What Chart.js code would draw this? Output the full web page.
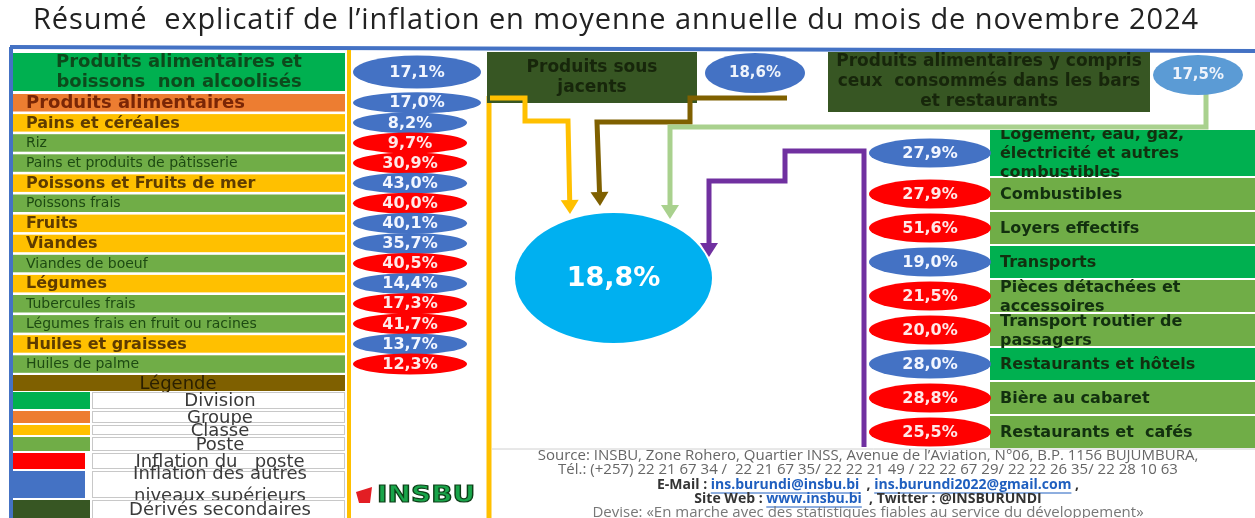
<!DOCTYPE html>
<html lang="fr">
<head>
<meta charset="utf-8">
<title>Inflation en moyenne annuelle – novembre 2024</title>
<script src="https://cdn.jsdelivr.net/npm/chart.js@4.4.1/dist/chart.umd.min.js"></script>
<style>
  html, body { margin: 0; padding: 0; background: #fff; }
  #wrap { width: 1255px; height: 518px; }
  canvas { display: block; }
</style>
</head>
<body>
<div id="wrap"><canvas id="infl" width="1255" height="518"></canvas></div>
<script>
/* ============================================================
   Résumé explicatif de l'inflation — novembre 2024
   ============================================================ */

// ── Data ──────────────────────────────────────────────────────
const TITLE = 'Résumé  explicatif de l’inflation en moyenne annuelle du mois de novembre 2024';
const headlineValue = 18.8;

const topLabels = [
  ['Produits sous', 'jacents'],
  ['Produits alimentaires y compris', 'ceux  consommés dans les bars', 'et restaurants']
];
const topValues = [18.6, 17.5];

const foodLabels = [
  ['Produits alimentaires et', 'boissons  non alcoolisés'],
  'Produits alimentaires',
  'Pains et céréales',
  'Riz',
  'Pains et produits de pâtisserie',
  'Poissons et Fruits de mer',
  'Poissons frais',
  'Fruits',
  'Viandes',
  'Viandes de boeuf',
  'Légumes',
  'Tubercules frais',
  'Légumes frais en fruit ou racines',
  'Huiles et graisses',
  'Huiles de palme'
];
const foodLevels = ['division', 'groupe', 'classe', 'poste', 'poste', 'classe', 'poste',
                    'classe', 'classe', 'poste', 'classe', 'poste', 'poste', 'classe', 'poste'];
const foodValues = [17.1, 17.0, 8.2, 9.7, 30.9, 43.0, 40.0, 40.1, 35.7, 40.5, 14.4, 17.3, 41.7, 13.7, 12.3];

const otherLabels = [
  ['Logement, eau, gaz,', 'électricité et autres', 'combustibles'],
  'Combustibles',
  'Loyers effectifs',
  'Transports',
  ['Pièces détachées et', 'accessoires'],
  ['Transport routier de', 'passagers'],
  'Restaurants et hôtels',
  'Bière au cabaret',
  'Restaurants et  cafés'
];
const otherLevels = ['division', 'poste', 'poste', 'division', 'poste', 'poste', 'division', 'poste', 'poste'];
const otherValues = [27.9, 27.9, 51.6, 19.0, 21.5, 20.0, 28.0, 28.8, 25.5];

const legendTitle = 'Légende';
const legendLabels = ['Division', 'Groupe', 'Classe', 'Poste', 'Inflation du   poste',
                      ['Inflation des autres', 'niveaux supérieurs'], 'Dérivés secondaires'];
const legendKeys = ['division', 'groupe', 'classe', 'poste', 'red', 'blue', 'derive'];

const sourceLines = [
  'Source: INSBU, Zone Rohero, Quartier INSS, Avenue de l’Aviation, N°06, B.P. 1156 BUJUMBURA,',
  'Tél.: (+257) 22 21 67 34 /  22 21 67 35/ 22 22 21 49 / 22 22 67 29/ 22 22 26 35/ 22 28 10 63',
  'Devise: «En marche avec des statistiques fiables au service du développement»'
];
const contactLinks = ['ins.burundi@insbu.bi', 'ins.burundi2022@gmail.com', 'www.insbu.bi'];

// ── Styles & layout ───────────────────────────────────────────
const FONT = '"DejaVu Sans", sans-serif';
const SANS = '"Open Sans", sans-serif';
const COLORS = {
  division: '#00B050', groupe: '#ED7D31', classe: '#FFC000', poste: '#70AD47',
  derive: '#375623', red: '#FF0000', blue: '#4472C4', sky: '#00B0F0', light: '#5B9BD5'
};
const INK = { division: '#0d4a1c', groupe: '#7a2606', classe: '#5e3c00', poste: '#1d4a12' };
const LEFT_FONT = { division: 'bold 18px ', groupe: 'bold 18px ', classe: 'bold 16px ', poste: '14px ' };

const LEFT  = { x0: 13, x1: 345, divTop: 53, divH: 38, rowTop: 94, pitch: 20.1, boxH: 17.5,
                ellX: 410, ellW: 114, ellWBig: 128, ellXBig: 417, ellH: 21, textX: 26 };
const RIGHT = { x0: 990, x1: 1255, divTop: 130, divH: 46, rowTop: 178, pitch: 34, boxH: 32,
                ellX: 930, ellW: 122, ellH: 29, textX: 1000 };
const LEGEND = { top: 375, barH: 16, rowH: [17, 12, 10, 14, 16, 27, 19], gap: 2 };

const leftCenter  = i => i === 0 ? LEFT.divTop + LEFT.divH / 2 : LEFT.rowTop + (i - 1) * LEFT.pitch + LEFT.boxH / 2;
const rightCenter = i => i === 0 ? RIGHT.divTop + RIGHT.divH / 2 : RIGHT.rowTop + (i - 1) * RIGHT.pitch + RIGHT.boxH / 2;

const fmt = v => v.toFixed(1).replace('.', ',') + '%';

// connectors (decoration): polylines ending in an arrow head
const CONNECTORS = [
  { color: '#FFC000', pts: [[490, 98], [525, 98], [525, 121], [568, 121], [570, 214]] },
  { color: '#7F6000', pts: [[787, 98], [690, 98], [690, 122], [597, 122], [600, 206]] },
  { color: '#A9D18E', pts: [[1206, 94], [1206, 127], [670, 127], [670, 219]] },
  { color: '#7030A0', pts: [[864, 447], [864, 151], [785, 151], [785, 181], [709, 181], [709, 257]] }
];

// ── Drawing helpers ───────────────────────────────────────────
function write(ctx, str, x, y, font, color, align, maxW) {
  ctx.font = font;
  ctx.fillStyle = color;
  ctx.textAlign = align || 'left';
  ctx.textBaseline = 'middle';
  if (maxW) ctx.fillText(str, x, y, maxW); else ctx.fillText(str, x, y);
}

function ellipse(ctx, x, y, w, h, fill) {
  ctx.beginPath();
  ctx.ellipse(x, y, w / 2, h / 2, 0, 0, Math.PI * 2);
  ctx.fillStyle = fill;
  ctx.fill();
}

function arrowPath(ctx, pts, color, X, Y) {
  const n = pts.length;
  const [ax, ay] = pts[n - 2], [bx, by] = pts[n - 1];
  const ang = Math.atan2(Y(by) - Y(ay), X(bx) - X(ax));
  const head = 14, half = 9;
  ctx.save();
  ctx.strokeStyle = color;
  ctx.lineWidth = 5;
  ctx.lineJoin = 'miter';
  ctx.beginPath();
  pts.forEach(([px, py], i) => {
    let x = X(px), y = Y(py);
    if (i === n - 1) { x -= Math.cos(ang) * head; y -= Math.sin(ang) * head; }
    i ? ctx.lineTo(x, y) : ctx.moveTo(x, y);
  });
  ctx.stroke();
  const tx = X(bx), ty = Y(by);
  ctx.fillStyle = color;
  ctx.beginPath();
  ctx.moveTo(tx, ty);
  ctx.lineTo(tx - Math.cos(ang) * head - Math.sin(ang) * half, ty - Math.sin(ang) * head + Math.cos(ang) * half);
  ctx.lineTo(tx - Math.cos(ang) * head + Math.sin(ang) * half, ty - Math.sin(ang) * head - Math.cos(ang) * half);
  ctx.closePath();
  ctx.fill();
  ctx.restore();
}

function line(ctx, x0, y0, x1, y1, color, w) {
  ctx.strokeStyle = color;
  ctx.lineWidth = w;
  ctx.beginPath();
  ctx.moveTo(x0, y0);
  ctx.lineTo(x1, y1);
  ctx.stroke();
}

// ── Background plugin: frame, boxes, connectors, legend, footer ─
const panelPlugin = {
  id: 'panel',
  beforeDatasetsDraw(chart) {
    const ctx = chart.ctx;
    const X = v => chart.scales.x.getPixelForValue(v);
    const Y = v => chart.scales.y.getPixelForValue(v);
    ctx.save();

    // title
    ctx.letterSpacing = '0.9px';
    write(ctx, TITLE, X(616), Y(21), '29px ' + SANS, '#222', 'center', 1170);
    ctx.letterSpacing = '0px';

    // frame
    line(ctx, X(10), Y(47), X(1255), Y(51), '#4472C4', 4);
    line(ctx, X(11), Y(47), X(11), Y(518), '#4472C4', 4);
    line(ctx, X(349), Y(50), X(349), Y(518), '#FFC000', 4);
    line(ctx, X(489), Y(96), X(489), Y(518), '#FFC000', 5);

    // left column boxes
    foodLabels.forEach((lab, i) => {
      const lvl = foodLevels[i];
      const top = i === 0 ? LEFT.divTop : LEFT.rowTop + (i - 1) * LEFT.pitch;
      const h = i === 0 ? LEFT.divH : LEFT.boxH;
      ctx.fillStyle = COLORS[lvl];
      ctx.fillRect(X(LEFT.x0), Y(top), X(LEFT.x1) - X(LEFT.x0), Y(top + h) - Y(top));
      const cy = leftCenter(i);
      if (Array.isArray(lab)) {
        lab.forEach((t, k) => write(ctx, t, X((LEFT.x0 + LEFT.x1) / 2), Y(cy - 10 + k * 20),
          LEFT_FONT[lvl] + FONT, INK[lvl], 'center'));
      } else {
        write(ctx, lab, X(LEFT.textX), Y(cy + 0.5), LEFT_FONT[lvl] + FONT, INK[lvl], 'left', LEFT.x1 - LEFT.textX - 4);
      }
    });

    // legend
    let ly = LEGEND.top;
    ctx.fillStyle = '#7F6000';
    ctx.fillRect(X(13), Y(ly), X(345) - X(13), Y(ly + LEGEND.barH) - Y(ly));
    write(ctx, legendTitle, X(178), Y(ly + LEGEND.barH / 2 + 1), '18px ' + FONT, '#2a1f00', 'center');
    ly += LEGEND.barH + 1;
    legendLabels.forEach((lab, i) => {
      const h = LEGEND.rowH[i];
      const key = legendKeys[i];
      const sw = key === 'red' || key === 'blue' ? 72 : 77;
      ctx.fillStyle = COLORS[key];
      ctx.fillRect(X(13), Y(ly), X(13 + sw) - X(13), Y(ly + h) - Y(ly));
      ctx.fillStyle = '#fff';
      ctx.fillRect(X(92), Y(ly), X(345) - X(92), Y(ly + h) - Y(ly));
      ctx.strokeStyle = '#c8c8c8';
      ctx.lineWidth = 1;
      ctx.strokeRect(X(92) + 0.5, Y(ly) + 0.5, X(345) - X(92) - 1, Y(ly + h) - Y(ly) - 1);
      const cy = ly + h / 2;
      if (Array.isArray(lab)) {
        write(ctx, lab[0], X(220), Y(cy - 10), '18px ' + FONT, '#3a3a3a', 'center');
        write(ctx, lab[1], X(220), Y(cy + 12), '18px ' + FONT, '#3a3a3a', 'center');
      } else {
        write(ctx, lab, X(220), Y(cy + 1), '18px ' + FONT, '#3a3a3a', 'center');
      }
      ly += h + LEGEND.gap;
    });

    // logo
    ctx.fillStyle = '#E31E24';
    ctx.beginPath();
    ctx.moveTo(X(356), Y(492)); ctx.lineTo(X(372), Y(487)); ctx.lineTo(X(370), Y(503)); ctx.lineTo(X(359), Y(503));
    ctx.closePath(); ctx.fill();
    ctx.save();
    ctx.translate(X(377), Y(496));
    ctx.scale(1.22, 1);
    ctx.lineWidth = 1.2; ctx.strokeStyle = '#0d3d17';
    ctx.font = 'bold 23px ' + FONT; ctx.textAlign = 'left'; ctx.textBaseline = 'middle';
    ctx.fillStyle = '#19A54A';
    ctx.fillText('INSBU', 0, 0);
    ctx.strokeText('INSBU', 0, 0);
    ctx.restore();

    // top boxes
    const topBoxes = [[487, 697, 52, 103], [828, 1150, 52, 112]];
    topLabels.forEach((lines, i) => {
      const [x0, x1, y0, y1] = topBoxes[i];
      ctx.fillStyle = COLORS.derive;
      ctx.fillRect(X(x0), Y(y0), X(x1) - X(x0), Y(y1) - Y(y0));
      const cy = (y0 + y1) / 2, lh = 20;
      lines.forEach((t, k) => write(ctx, t, X((x0 + x1) / 2), Y(cy + (k - (lines.length - 1) / 2) * lh),
        'bold 17px ' + FONT, '#17260b', 'center', x1 - x0 - 8));
    });

    // right column boxes
    otherLabels.forEach((lab, i) => {
      const lvl = otherLevels[i];
      const top = i === 0 ? RIGHT.divTop : RIGHT.rowTop + (i - 1) * RIGHT.pitch;
      const h = i === 0 ? RIGHT.divH : RIGHT.boxH;
      ctx.fillStyle = COLORS[lvl];
      ctx.fillRect(X(RIGHT.x0), Y(top), X(RIGHT.x1) - X(RIGHT.x0), Y(top + h) - Y(top));
      const cy = rightCenter(i);
      const lines = Array.isArray(lab) ? lab : [lab];
      ctx.save();
      if (i === 0) {
        ctx.beginPath();
        ctx.rect(X(RIGHT.x0), Y(top), X(RIGHT.x1) - X(RIGHT.x0), Y(top + h + 2) - Y(top));
        ctx.clip();
      }
      const lh = 19;
      lines.forEach((t, k) => write(ctx, t, X(RIGHT.textX), Y(cy + (k - (lines.length - 1) / 2) * lh + 1),
        'bold 16px ' + FONT, '#12300f', 'left'));
      ctx.restore();
    });

    // connectors
    CONNECTORS.forEach(c => arrowPath(ctx, c.pts, c.color, X, Y));

    // footer
    ctx.fillStyle = '#fff';
    ctx.fillRect(X(492), Y(449), X(1255) - X(492), Y(518) - Y(449));
    line(ctx, X(492), Y(449), X(1255), Y(449), '#d0d0d0', 1);
    const fx = X(868);
    write(ctx, sourceLines[0], fx, Y(456), '15px ' + SANS, '#666', 'center', 680);
    write(ctx, sourceLines[1], fx, Y(470), '15px ' + SANS, '#666', 'center', 665);
    const parts3 = [['E-Mail : ', 0], [contactLinks[0], 1], ['  , ', 0], [contactLinks[1], 1], [' ,', 0]];
    const parts4 = [['Site Web : ', 0], [contactLinks[2], 1], ['  , Twitter : @INSBURUNDI', 0]];
    [[parts3, 485], [parts4, 499]].forEach(([parts, yy]) => {
      ctx.font = 'bold 14px ' + SANS;
      const tw = parts.reduce((s, p) => s + ctx.measureText(p[0]).width, 0);
      let x = fx - tw / 2;
      parts.forEach(([t, link]) => {
        write(ctx, t, x, Y(yy), 'bold 14px ' + SANS, link ? '#1f5fbf' : '#333', 'left');
        const w = ctx.measureText(t).width;
        if (link) line(ctx, x, Y(yy + 8), x + w, Y(yy + 8), '#1f5fbf', 1);
        x += w;
      });
    });
    write(ctx, sourceLines[2], fx, Y(513), '15px ' + SANS, '#777', 'center', 605);

    ctx.restore();
  },

  // ellipses with the inflation rates, drawn at the dataset points
  afterDatasetsDraw(chart) {
    const ctx = chart.ctx;
    ctx.save();
    chart.data.datasets.forEach((ds, di) => {
      const meta = chart.getDatasetMeta(di);
      meta.data.forEach((pt, i) => {
        const d = ds.data[i];
        ellipse(ctx, pt.x, pt.y, d.w, d.h, d.fill);
        write(ctx, fmt(d.v), pt.x, pt.y + 0.5, 'bold ' + d.fs + 'px ' + FONT, d.ink || '#fff', 'center');
      });
    });
    ctx.restore();
  }
};

// ── Datasets built from the arrays ────────────────────────────
const fill = lvl => lvl === 'poste' ? COLORS.red : COLORS.blue;
const ink = lvl => lvl === 'poste' ? '#ffe8e8' : '#f2f6ff';

const foodPoints = foodValues.map((v, i) => {
  const big = i < 2;
  return {
    x: big ? LEFT.ellXBig : LEFT.ellX, y: leftCenter(i), v,
    w: big ? LEFT.ellWBig : LEFT.ellW, h: i === 0 ? 33 : LEFT.ellH,
    fill: fill(foodLevels[i]), ink: ink(foodLevels[i]), fs: 16
  };
});
const otherPoints = otherValues.map((v, i) => ({
  x: RIGHT.ellX, y: rightCenter(i), v,
  w: RIGHT.ellW, h: RIGHT.ellH,
  fill: fill(otherLevels[i]), ink: ink(otherLevels[i]), fs: 16
}));
const topPoints = topValues.map((v, i) => ({
  x: [755, 1198][i], y: [73, 75][i], v, w: [100, 90][i], h: [40, 40][i],
  fill: [COLORS.blue, COLORS.light][i], ink: '#eef3fb', fs: 15
}));
const headlinePoint = [{ x: 613.5, y: 278, v: headlineValue, w: 197, h: 130, fill: COLORS.sky, ink: '#fff', fs: 27 }];

new Chart(document.getElementById('infl'), {
  type: 'scatter',
  data: {
    datasets: [
      { label: 'Alimentation', data: foodPoints, pointRadius: 0 },
      { label: 'Autres divisions', data: otherPoints, pointRadius: 0 },
      { label: 'Dérivés', data: topPoints, pointRadius: 0 },
      { label: 'Inflation globale', data: headlinePoint, pointRadius: 0 }
    ]
  },
  options: {
    responsive: false,
    animation: false,
    devicePixelRatio: 1,
    layout: { padding: 0 },
    plugins: { legend: { display: false }, tooltip: { enabled: false } },
    scales: {
      x: { type: 'linear', min: 0, max: 1255, display: false },
      y: { type: 'linear', min: 0, max: 518, reverse: true, display: false }
    }
  },
  plugins: [panelPlugin]
});
</script>
</body>
</html>
